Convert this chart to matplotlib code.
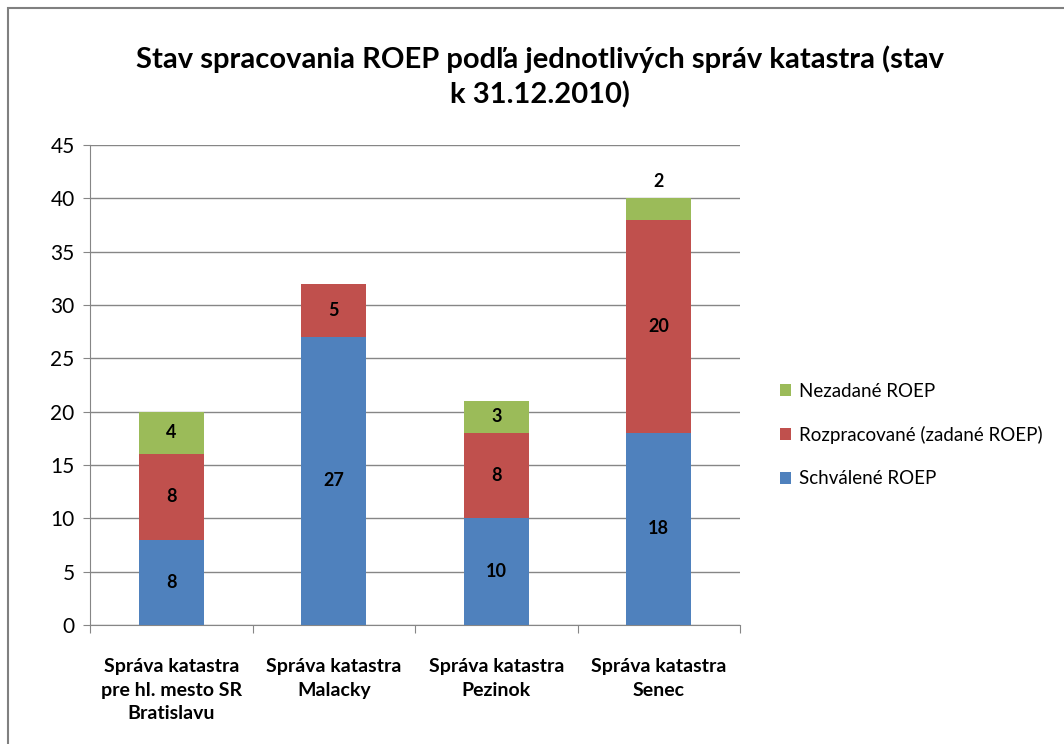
import matplotlib.pyplot as plt
import numpy as np
from matplotlib.patches import Rectangle

plt.rcParams['font.family'] = ['Lato', 'DejaVu Sans']

categories = ["Správa katastra\npre hl. mesto SR\nBratislavu", "Správa katastra\nMalacky",
              "Správa katastra\nPezinok", "Správa katastra\nSenec"]
schvalene = [8, 27, 10, 18]
rozpracovane = [8, 5, 8, 20]
nezadane = [4, 0, 3, 2]

series = [("Schválené ROEP", schvalene, "#4F81BD"),
          ("Rozpracované (zadané ROEP)", rozpracovane, "#C0504D"),
          ("Nezadané ROEP", nezadane, "#9BBB59")]

fig = plt.figure(figsize=(10.64, 7.44), dpi=100)
fig.patches.append(Rectangle((8/1064, -0.1), 1.2, 1 - 8/744 + 0.1, transform=fig.transFigure,
                             fill=False, edgecolor='#808080', linewidth=1.5))
ax = fig.add_axes([90/1064, 1 - 625/744, 650/1064, 480/744])

x = np.arange(len(categories))
bottom = np.zeros(len(categories))
handles = []
for name, vals, col in series:
    vals = np.array(vals, dtype=float)
    bars = ax.bar(x, vals, 0.4, bottom=bottom, color=col, label=name, zorder=3)
    handles.append(bars)
    for xi, b, v in zip(x, bottom, vals):
        if v == 0:
            continue
        # small segments get their label above the bar, like Excel did
        if v < 3:
            ax.text(xi, b + v + 1.6, f"{int(v)}", ha='center', va='center', fontsize=13, fontweight='bold')
        else:
            ax.text(xi, b + v / 2, f"{int(v)}", ha='center', va='center', fontsize=13, fontweight='bold')
    bottom += vals

ax.set_xlim(-0.5, len(categories) - 0.5)
ax.set_ylim(0, 45)
ax.set_yticks(np.arange(0, 46, 5))
ax.yaxis.grid(True, color='#868686', linewidth=1, zorder=0)
ax.set_axisbelow(True)
ax.tick_params(axis='y', labelsize=15, length=5, color='#868686', pad=6)
ax.set_xticks(np.arange(-0.5, len(categories), 1))
ax.set_xticklabels([])
ax.set_xticks(x, minor=True)
ax.set_xticklabels(categories, minor=True, fontsize=14, fontweight='bold', linespacing=1.45)
ax.tick_params(axis='x', which='major', length=6, color='#868686')
ax.tick_params(axis='x', which='minor', length=0, pad=24)
for s in ['top', 'right']:
    ax.spines[s].set_visible(False)
for s in ['left', 'bottom']:
    ax.spines[s].set_color('#868686')

fig.text(540/1064, 1 - 77/744, "Stav spracovania ROEP podľa jednotlivých správ katastra (stav\nk 31.12.2010)",
         ha='center', va='center', fontsize=21, fontweight='bold', linespacing=1.35)

leg = fig.legend(handles[::-1], [s[0] for s in series][::-1], loc='center left',
                 bbox_to_anchor=(763/1064, 1 - 435/744), frameon=False, fontsize=13.5,
                 handlelength=0.6, handleheight=0.6, labelspacing=1.4, handletextpad=0.4)

plt.savefig('out.png', dpi=100)
